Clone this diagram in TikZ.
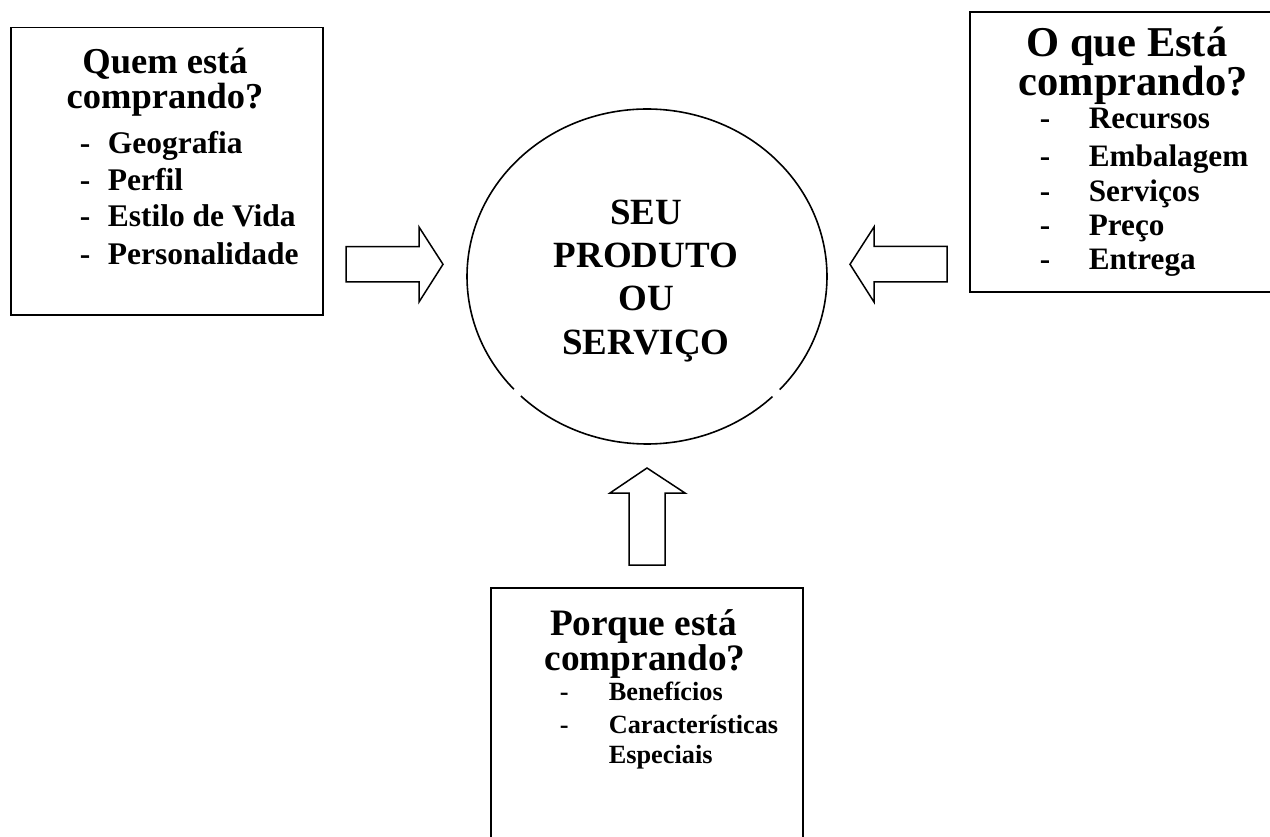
\documentclass[tikz,border=0pt]{standalone}
\usepackage{fontspec}
\setmainfont{Liberation Serif}
\begin{document}
\begin{tikzpicture}[x=1pt,y=-1pt,line width=1.6pt,
  ttlA/.style={font=\fontsize{36.5}{35}\selectfont\bfseries,anchor=base,inner sep=0pt,align=center},
  ttlB/.style={font=\fontsize{42.5}{38}\selectfont\bfseries,anchor=base,inner sep=0pt,align=center},
  ttlC/.style={font=\fontsize{37.3}{35}\selectfont\bfseries,anchor=base,inner sep=0pt,align=center},
  ctr/.style={font=\fontsize{37}{37}\selectfont\bfseries,anchor=base,inner sep=0pt},
  itmA/.style={font=\fontsize{31.5}{31.5}\selectfont\bfseries,anchor=base west,inner sep=0pt},
  itmB/.style={font=\fontsize{31.2}{31.2}\selectfont\bfseries,anchor=base west,inner sep=0pt},
  itmC/.style={font=\fontsize{26.3}{26.3}\selectfont\bfseries,anchor=base west,inner sep=0pt},
  boxline/.style={line width=1.6pt},
  blockarrow/.style={line width=1.5pt,line join=miter,fill=white}]
\useasboundingbox (0,0) rectangle (1270,837);

% ---------- left box ----------
\draw[boxline] (10.7,27.7) rectangle (322.7,315);
\node[ttlA] (lt) at (165,109) {Quem está\\comprando?};
\node[itmA] (ld1) at (79,154) {-};
\node[itmA] (li1) at (107,154) {Geografia};
\node[itmA] (ld2) at (79,190.7) {-};
\node[itmA] (li2) at (107,190.7) {Perfil};
\node[itmA] (ld3) at (79,227) {-};
\node[itmA] (li3) at (107,227) {Estilo de Vida};
\node[itmA] (ld4) at (79,265) {-};
\node[itmA] (li4) at (107,265) {Personalidade};

% ---------- right box ----------
\draw[boxline] (1275,12) -- (970,12) -- (970,292) -- (1275,292);
\node[ttlB] (rt) at (1133,96) {O que Está\hspace*{12pt}\\comprando?};
\node[itmB] (rd1) at (1039,129) {-};
\node[itmB] (ri1) at (1088,129) {Recursos};
\node[itmB] (rd2) at (1039,166.5) {-};
\node[itmB] (ri2) at (1088,166.5) {Embalagem};
\node[itmB] (rd3) at (1039,201.5) {-};
\node[itmB] (ri3) at (1088,201.5) {Serviços};
\node[itmB] (rd4) at (1039,235.5) {-};
\node[itmB] (ri4) at (1088,235.5) {Preço};
\node[itmB] (rd5) at (1039,270) {-};
\node[itmB] (ri5) at (1088,270) {Entrega};

% ---------- bottom box ----------
\draw[boxline] (491,842) -- (491,588) -- (803,588) -- (803,842);
\node[ttlC] (bt) at (645,670) {Porque está\hspace*{3pt}\\comprando?};
\node[itmC] (bd1) at (559,700) {-};
\node[itmC] (bi1) at (608,700) {Benefícios};
\node[itmC] (bd2) at (559,733) {-};
\node[itmC] (bi2) at (608,733) {Características};
\node[itmC] (bi3) at (608,763) {Especiais};

% ---------- central circle ----------
\coordinate (c) at (647,276.5);
\draw[line width=1.6pt] (c) ++(45.8:180 and 167.5)
  arc[start angle=45.8,end angle=134.5,x radius=180,y radius=167.5];
\draw[line width=1.6pt] (c) ++(137.7:180 and 167.5)
  arc[start angle=137.7,end angle=402.5,x radius=180,y radius=167.5];
\node[ctr] (p1) at (646,225) {SEU};
\node[ctr] (p2) at (646,267.7) {PRODUTO};
\node[ctr] (p3) at (646,310.7) {OU};
\node[ctr] (p4) at (646,355) {SERVIÇO};

% ---------- block arrows ----------
\coordinate (aL) at (443,264.3);
\coordinate (aR) at (850,264.3);
\coordinate (aU) at (647,468);
\draw[blockarrow] (346,246.7) -- (419,246.7) -- (419,227) -- (aL)
  -- (419,302) -- (419,282) -- (346,282) -- cycle;
\draw[blockarrow] (947,246.5) -- (874,246.5) -- (874,227) -- (aR)
  -- (874,302) -- (874,282) -- (947,282) -- cycle;
\draw[blockarrow] (629,565) -- (629,493) -- (610,493) -- (aU)
  -- (685,493) -- (665,493) -- (665,565) -- cycle;
\end{tikzpicture}
\end{document}
